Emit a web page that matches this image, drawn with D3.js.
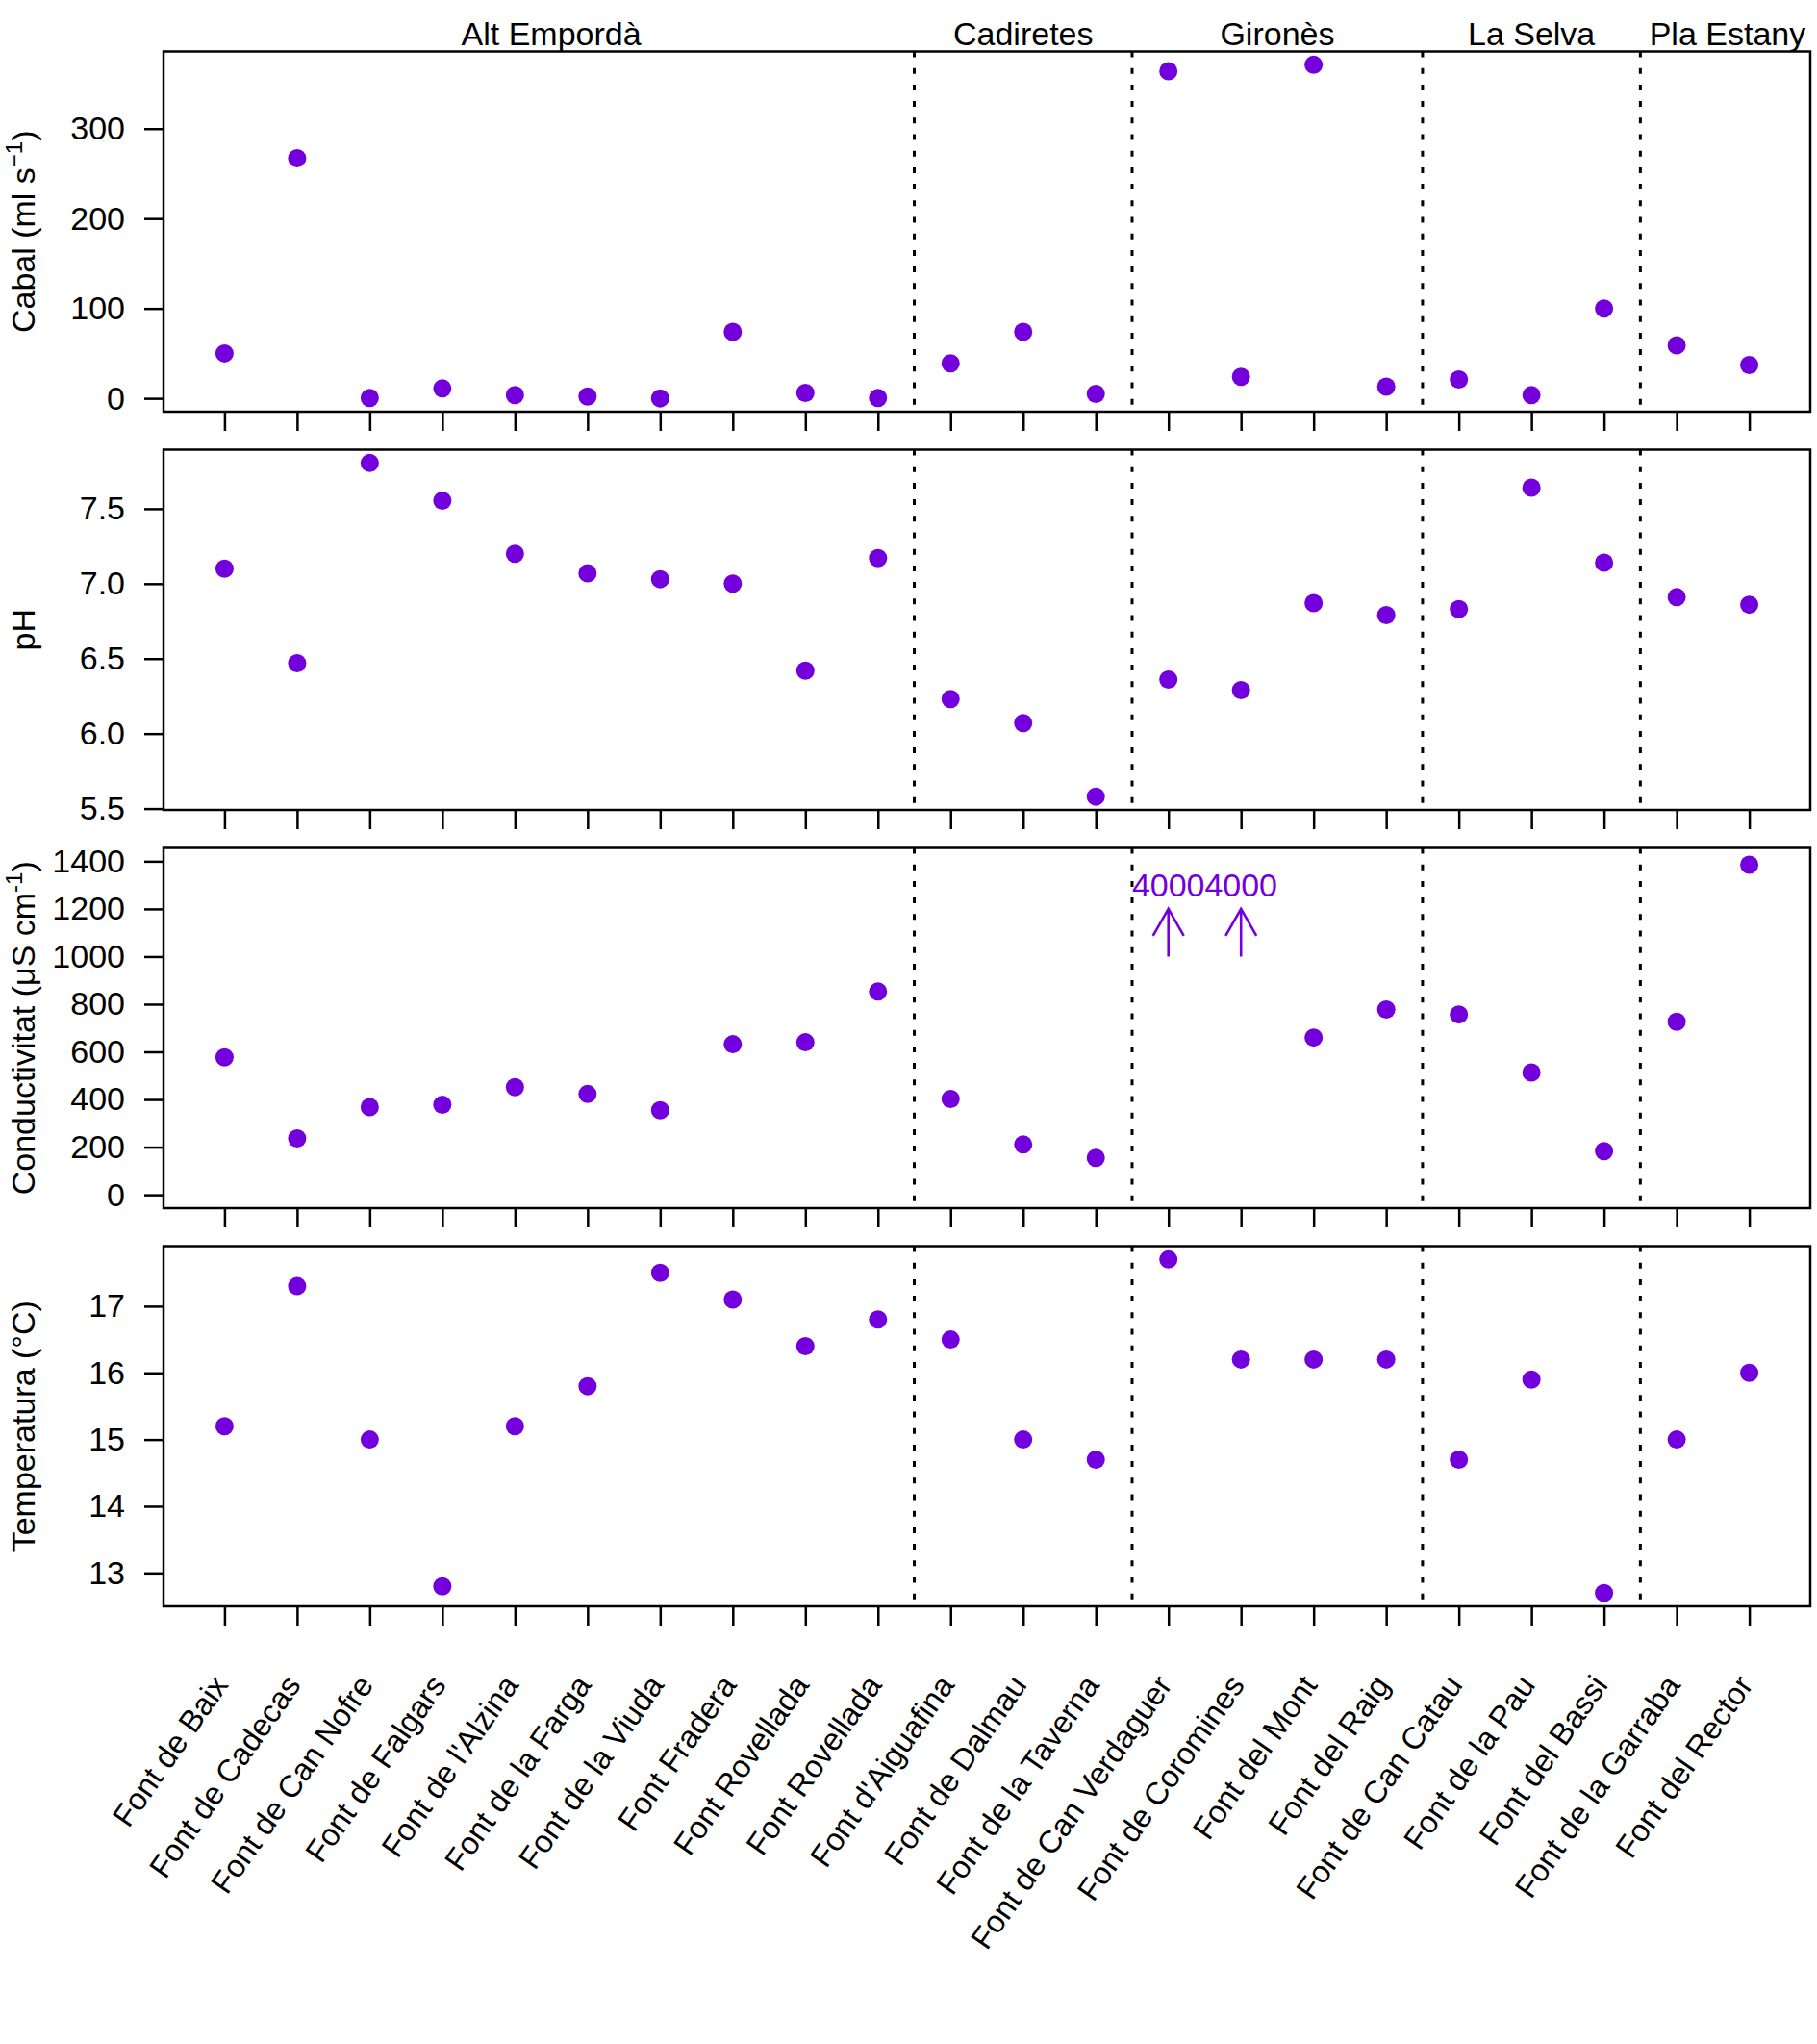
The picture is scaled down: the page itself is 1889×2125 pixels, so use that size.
<!DOCTYPE html>
<html>
<head>
<meta charset="utf-8">
<script src="https://cdn.jsdelivr.net/npm/d3@7"></script>
<style>
  body { margin: 0; background: #fff; }
  text { font-family: "Liberation Sans", Arial, Helvetica, sans-serif; }
</style>
</head>
<body>
<script>
var sites = ["Font de Baix", "Font de Cadecas", "Font de Can Nofre", "Font de Falgars",
  "Font de l'Alzina", "Font de la Farga", "Font de la Viuda", "Font Fradera",
  "Font Rovellada", "Font Rovellada", "Font d'Aiguafina", "Font de Dalmau",
  "Font de la Taverna", "Font de Can Verdaguer", "Font de Coromines", "Font del Mont",
  "Font del Raig", "Font de Can Catau", "Font de la Pau", "Font del Bassi",
  "Font de la Garraba", "Font del Rector"];

var groups = ["Alt Empordà", "Cadiretes", "Gironès", "La Selva", "Pla Estany"];
var groupSizes = [10, 3, 4, 3, 2];

var cabal = [50, 267, 0.5, 11, 3.6, 2, 0, 74, 6, 0.5, 39, 74, 5, 364, 24, 371, 13, 21, 3.5, 100, 59, 37];
var ph = [7.10, 6.47, 7.805, 7.554, 7.20, 7.07, 7.03, 7.00, 6.42, 7.17, 6.23, 6.07, 5.58, 6.36, 6.29, 6.87, 6.79, 6.83, 7.64, 7.14, 6.91, 6.86];
var conductivitat = [577, 237, 368, 378, 452, 423, 355, 632, 640, 853, 402, 211, 155, 4000, 4000, 660, 778, 757, 513, 183, 726, 1385];
var temperatura = [15.2, 17.3, 15.0, 12.8, 15.2, 15.8, 17.5, 17.1, 16.4, 16.8, 16.5, 15.0, 14.7, 17.7, 16.2, 16.2, 16.2, 14.7, 15.9, 12.7, 15.0, 16.0];

var cabalTicks = [0, 100, 200, 300];
var phTicks = [5.5, 6.0, 6.5, 7.0, 7.5];
var condTicks = [0, 200, 400, 600, 800, 1000, 1200, 1400];
var tempTicks = [13, 14, 15, 16, 17];
var condLimits = [0, 1400];

var W = 1889, H = 2125;
var left = 170, right = 1882;
var panelTop = 53.5, panelH = 374.5, panelStep = 414;
var purple = "#7300dc";
var fs = 34;

// R style 4% padding of a range
function rpad(lo, hi) {
  var d = (hi - lo) * 0.04;
  return [lo - d, hi + d];
}

var panels = [
  { values: cabal, ticks: cabalTicks, fmt: function(d){ return d; }, domain: rpad(d3.min(cabal), d3.max(cabal)),
    title: ["Cabal (ml s", "\u22121", ")"] },
  { values: ph, ticks: phTicks, fmt: d3.format(".1f"), domain: rpad(d3.min(ph), d3.max(ph)),
    title: ["pH"] },
  { values: conductivitat, ticks: condTicks, fmt: function(d){ return d; }, domain: rpad(condLimits[0], condLimits[1]),
    title: ["Conductivitat (\u03bcS cm", "-1", ")"] },
  { values: temperatura, ticks: tempTicks, fmt: function(d){ return d; }, domain: rpad(d3.min(temperatura), d3.max(temperatura)),
    title: ["Temperatura (\u00b0C)"] }
];

var idx = d3.range(1, sites.length + 1);
var x = d3.scaleLinear().domain(rpad(1, sites.length)).range([left, right]);

// group boundaries
var cum = [0];
for (var i = 0; i < groupSizes.length; i++) cum.push(cum[i] + groupSizes[i]);
var seps = cum.slice(1, -1).map(function(c){ return c + 0.5; });

var svg = d3.select("body").append("svg")
  .attr("width", W)
  .attr("height", H);

svg.selectAll("text.group")
  .data(groups)
  .enter()
  .append("text")
  .attr("class", "group")
  .attr("x", function(d, i){
    var c = (cum[i] + 1 + cum[i + 1]) / 2;
    if (i == groups.length - 1) c += 0.2; // last label sits a bit right
    return x(c);
  })
  .attr("y", 46.5)
  .attr("text-anchor", "middle")
  .attr("font-size", fs)
  .text(function(d){ return d; });

panels.forEach(function(p, k) {
  var top = panelTop + k * panelStep;
  var y = d3.scaleLinear().domain(p.domain).range([top + panelH, top]);
  var g = svg.append("g");

  // dotted separators
  g.selectAll("line.sep")
    .data(seps)
    .enter()
    .append("line")
    .attr("x1", function(d){ return x(d); })
    .attr("x2", function(d){ return x(d); })
    .attr("y1", top)
    .attr("y2", top + panelH)
    .attr("stroke", "#000")
    .attr("stroke-width", 3)
    .attr("stroke-dasharray", "6 11.2");

  // y axis
  var ya = g.append("g")
    .attr("transform", "translate(" + left + ",0)")
    .call(d3.axisLeft(y).tickValues(p.ticks).tickFormat(p.fmt).tickSize(20).tickPadding(20));
  ya.select(".domain").remove();
  ya.selectAll(".tick line").attr("stroke", "#000").attr("stroke-width", 2.5);
  ya.selectAll(".tick text").attr("font-size", fs).attr("font-family", "Liberation Sans, Arial, sans-serif").attr("fill", "#000");

  // x ticks below the box
  var xa = g.append("g")
    .attr("transform", "translate(0," + (top + panelH) + ")")
    .call(d3.axisBottom(x).tickValues(idx).tickFormat("").tickSize(20));
  xa.select(".domain").remove();
  xa.selectAll(".tick line").attr("stroke", "#000").attr("stroke-width", 2.5);

  // box
  g.append("rect")
    .attr("x", left)
    .attr("y", top)
    .attr("width", right - left)
    .attr("height", panelH)
    .attr("fill", "none")
    .attr("stroke", "#000")
    .attr("stroke-width", 2.5);

  // points inside the range
  var inside = idx.filter(function(d){ return p.values[d - 1] <= p.domain[1]; });
  g.selectAll("circle")
    .data(inside)
    .enter()
    .append("circle")
    .attr("cx", function(d){ return x(d); })
    .attr("cy", function(d){ return y(p.values[d - 1]); })
    .attr("r", 9.5)
    .attr("fill", purple);

  // off-scale values: arrow plus label
  var outside = idx.filter(function(d){ return p.values[d - 1] > p.domain[1]; });
  outside.forEach(function(d) {
    var cx = x(d);
    var tip = y(1200), base = y(1000);
    g.append("path")
      .attr("d", "M" + cx + "," + base + "L" + cx + "," + tip +
        "M" + (cx - 16) + "," + (tip + 28) + "L" + cx + "," + tip + "L" + (cx + 16) + "," + (tip + 28))
      .attr("fill", "none")
      .attr("stroke", purple)
      .attr("stroke-width", 2.6);
    g.append("text")
      .attr("x", cx)
      .attr("y", y(1300) + 0.36 * 34)
      .attr("text-anchor", "middle")
      .attr("font-size", 34)
      .attr("fill", purple)
      .text(p.values[d - 1]);
  });

  // y title
  var t = g.append("text")
    .attr("transform", "translate(36," + (top + panelH / 2) + ") rotate(-90)")
    .attr("text-anchor", "middle")
    .attr("font-size", fs);
  t.append("tspan").text(p.title[0]);
  if (p.title.length > 1) {
    t.append("tspan").attr("dy", -13).attr("font-size", 24).text(p.title[1]);
    t.append("tspan").attr("dy", 13).text(p.title[2]);
  }
});

// rotated site labels
var labelY = 1752;
svg.selectAll("text.site")
  .data(sites)
  .enter()
  .append("text")
  .attr("class", "site")
  .attr("text-anchor", "end")
  .attr("font-size", 32.5)
  .attr("transform", function(d, i){ return "translate(" + (x(i + 1) + 5) + "," + labelY + ") rotate(-55)"; })
  .text(function(d){ return d; });
</script>
</body>
</html>
